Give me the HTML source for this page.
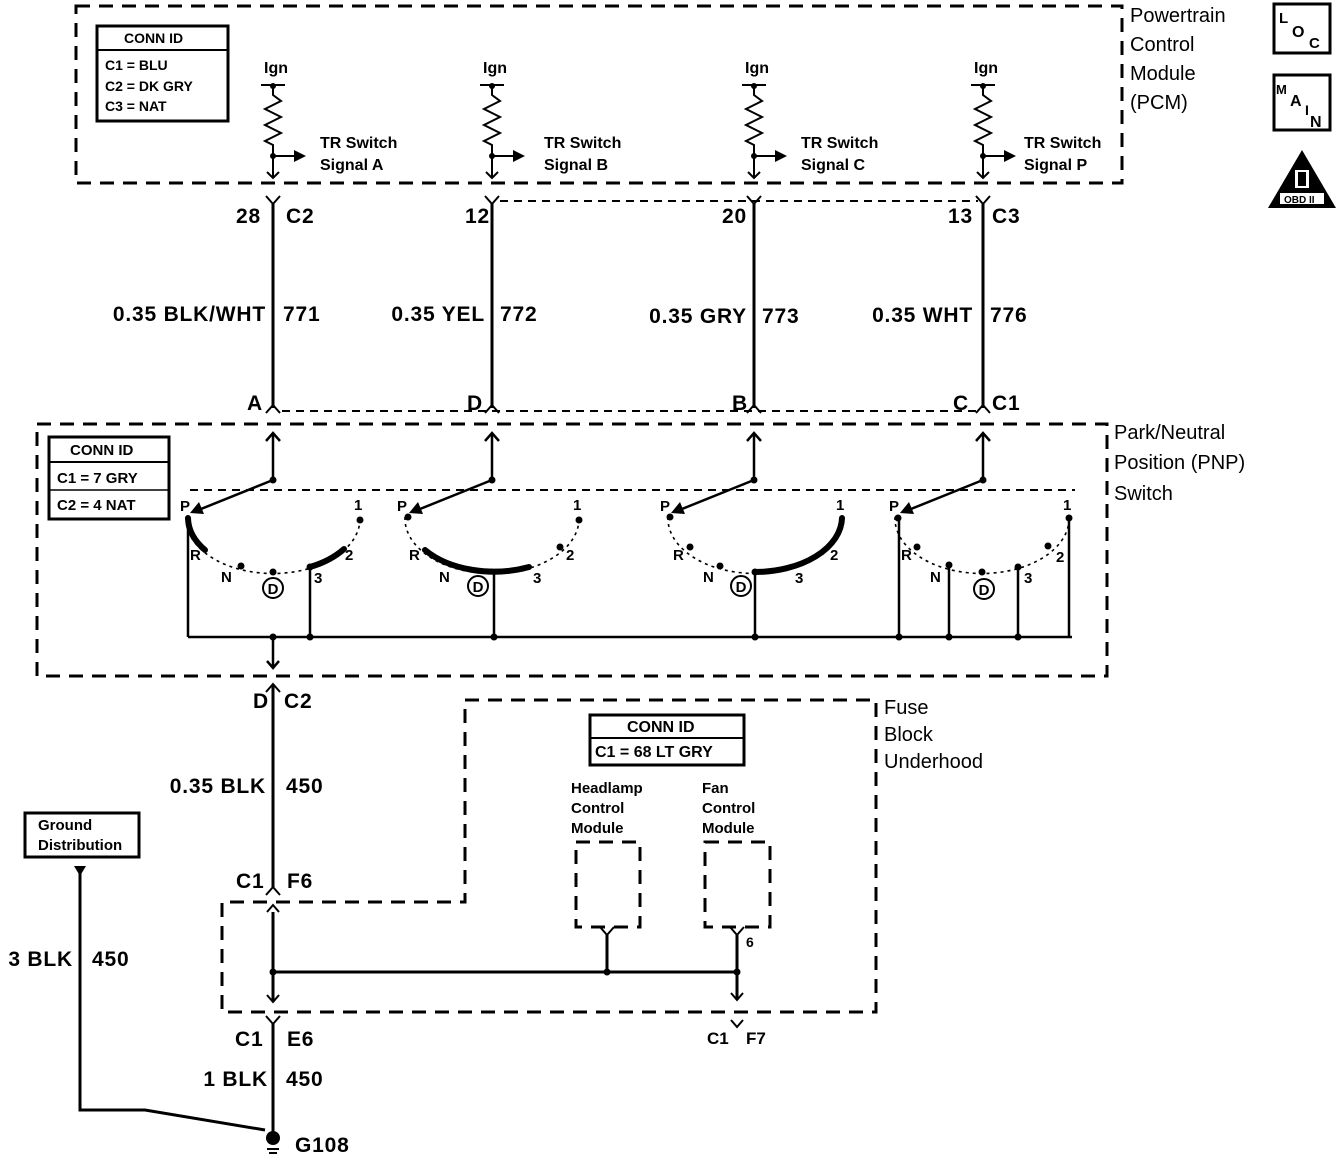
<!DOCTYPE html>
<html><head><meta charset="utf-8"><style>
html,body{margin:0;padding:0;background:#fff}
svg{display:block}
text{font-family:"Liberation Sans",Arial,sans-serif;fill:#000;font-weight:bold}
.big text{letter-spacing:0.8px}
</style></head><body>
<svg width="1344" height="1160" viewBox="0 0 1344 1160" xmlns="http://www.w3.org/2000/svg">
<g stroke="#000" fill="none">
<rect x="76" y="6" width="1046" height="177" stroke-width="3" stroke-dasharray="14,9"/>
<rect x="37" y="424" width="1070" height="252" stroke-width="3" stroke-dasharray="14,9"/>
<path d="M465,700 L876,700 L876,1012 L222,1012 L222,902 L465,902 Z" stroke-width="3" stroke-dasharray="14,9"/>
<path d="M500,201 L978,201" stroke-width="2" stroke-dasharray="8,6"/>
<path d="M282,411 L978,411" stroke-width="2" stroke-dasharray="8,6"/>
<path d="M190,490 L1075,490" stroke-width="2" stroke-dasharray="8,6"/>
</g>

<g stroke="#000" stroke-width="2" fill="none">
<path d="M261,85 H285 M480,85 H504 M742,85 H766 M971,85 H995"/>
<path d="M273,85 V95 L281,101 L265,109 L281,117 L265,125 L281,133 L265,141 L273,145 V178"/>
<path d="M492,85 V95 L500,101 L484,109 L500,117 L484,125 L500,133 L484,141 L492,145 V178"/>
<path d="M754,85 V95 L762,101 L746,109 L762,117 L746,125 L762,133 L746,141 L754,145 V178"/>
<path d="M983,85 V95 L991,101 L975,109 L991,117 L975,125 L991,133 L975,141 L983,145 V178"/>
<path d="M267,172 L273,178 L279,172 M486,172 L492,178 L498,172 M748,172 L754,178 L760,172 M977,172 L983,178 L989,172"/>
<path d="M273,156 H296 M492,156 H515 M754,156 H777 M983,156 H1006"/>
</g>
<g fill="#000">
<circle cx="273" cy="86" r="3"/><circle cx="492" cy="86" r="3"/><circle cx="754" cy="86" r="3"/><circle cx="983" cy="86" r="3"/>
<circle cx="273" cy="156" r="3"/><circle cx="492" cy="156" r="3"/><circle cx="754" cy="156" r="3"/><circle cx="983" cy="156" r="3"/>
<path d="M294,150 L306,156 L294,162Z M513,150 L525,156 L513,162Z M775,150 L787,156 L775,162Z M1004,150 L1016,156 L1004,162Z"/>
</g>
<g font-size="16">
<text x="264" y="73">Ign</text><text x="483" y="73">Ign</text><text x="745" y="73">Ign</text><text x="974" y="73">Ign</text>
<text x="320" y="148">TR Switch</text><text x="320" y="170">Signal A</text>
<text x="544" y="148">TR Switch</text><text x="544" y="170">Signal B</text>
<text x="801" y="148">TR Switch</text><text x="801" y="170">Signal C</text>
<text x="1024" y="148">TR Switch</text><text x="1024" y="170">Signal P</text>
</g>
<rect x="97" y="26" width="131" height="95" fill="none" stroke="#000" stroke-width="3"/>
<line x1="97" y1="50" x2="228" y2="50" stroke="#000" stroke-width="2"/>
<g font-size="14"><text x="124" y="43">CONN ID</text>
<text x="105" y="70">C1 = BLU</text><text x="105" y="91">C2 = DK GRY</text><text x="105" y="111">C3 = NAT</text></g>
<g font-size="20"><text x="1130" y="22" style="font-weight:normal">Powertrain</text><text x="1130" y="51" style="font-weight:normal">Control</text><text x="1130" y="80" style="font-weight:normal">Module</text><text x="1130" y="109" style="font-weight:normal">(PCM)</text></g>

<rect x="1274" y="4" width="56" height="49" fill="none" stroke="#000" stroke-width="3"/>
<text x="1279" y="23" font-size="15">L</text><text x="1292" y="37" font-size="16">O</text><text x="1309" y="48" font-size="15">C</text>
<rect x="1274" y="75" width="56" height="55" fill="none" stroke="#000" stroke-width="3"/>
<text x="1276" y="94" font-size="13">M</text><text x="1290" y="106" font-size="16">A</text><text x="1305" y="115" font-size="14">I</text><text x="1310" y="127" font-size="16">N</text>
<path d="M1302,150 L1336,208 L1268,208 Z" fill="#000"/>
<rect x="1295" y="170" width="14" height="18" fill="#fff"/><rect x="1298" y="172" width="8" height="14" fill="#000"/>
<rect x="1280" y="193" width="44" height="11" fill="#fff"/>
<text x="1284" y="203" font-size="10">OBD II</text>

<g stroke="#000" stroke-width="3" fill="none">
<path d="M273,204 V408 M492,204 V408 M754,204 V408 M983,204 V408"/>
</g>
<g stroke="#000" stroke-width="2" fill="none">
<path d="M266,196 L273,204 L280,196 M485,196 L492,204 L499,196 M747,196 L754,204 L761,196 M976,196 L983,204 L990,196"/>
<path d="M266,413 L273,405 L280,413 M485,413 L492,405 L499,413 M747,413 L754,405 L761,413 M976,413 L983,405 L990,413"/>
</g>
<g font-size="21" class="big">
<text x="236" y="223">28</text><text x="286" y="223">C2</text>
<text x="465" y="223">12</text>
<text x="722" y="223">20</text>
<text x="948" y="223">13</text><text x="992" y="223">C3</text>
<text x="266" y="321" text-anchor="end">0.35 BLK/WHT</text><text x="283" y="321">771</text>
<text x="485" y="321" text-anchor="end">0.35 YEL</text><text x="500" y="321">772</text>
<text x="747" y="323" text-anchor="end">0.35 GRY</text><text x="762" y="323">773</text>
<text x="973" y="322" text-anchor="end">0.35 WHT</text><text x="990" y="322">776</text>
<text x="247" y="410">A</text><text x="467" y="410">D</text><text x="732" y="410">B</text><text x="953" y="410">C</text><text x="992" y="410">C1</text>
</g>

<g stroke="#000" stroke-width="2.5" fill="none">
<path d="M273,480 V434 M492,480 V434 M754,480 V434 M983,480 V434"/>
<path d="M266,441 L273,433 L280,441 M485,441 L492,433 L499,441 M747,441 L754,433 L761,441 M976,441 L983,433 L990,441"/>
<path d="M273,480 L196,511 M492,480 L415,511 M754,480 L677,511 M983,480 L906,511"/>
<path d="M188,637 H1072"/>
<path d="M188,517 V637 M310,567 V637 M494,572 V637 M755,572 V637 M899,517 V637 M949,565 V637 M1018,567 V637 M1069,520 V637"/>
<path d="M273,637 V668 M267,661 L273,668 L279,661"/>
</g>
<g fill="#000">
<path d="M190,513 L204,514 L199,502Z M409,513 L423,514 L418,502Z M671,513 L685,514 L680,502Z M900,513 L914,514 L909,502Z"/>
</g>
<g stroke="#000" stroke-width="1.6" fill="none" stroke-dasharray="3,4">
<path d="M186,517 A87,55 0 0 0 360,520"/>
<path d="M405,517 A87,55 0 0 0 579,520"/>
<path d="M668,517 A87,55 0 0 0 842,520"/>
<path d="M895,517 A87,55 0 0 0 1069,520"/>
</g>
<g stroke="#000" stroke-width="6" fill="none" stroke-linecap="round">
<path d="M188,518 A87,55 0 0 0 205,550"/>
<path d="M310,567 A87,55 0 0 0 344,549"/>
<path d="M425,550 A87,55 0 0 0 529,567"/>
<path d="M755,572 A87,55 0 0 0 842,518"/>
</g>
<g fill="#000">
<circle cx="273" cy="480" r="3.5"/><circle cx="492" cy="480" r="3.5"/><circle cx="754" cy="480" r="3.5"/><circle cx="983" cy="480" r="3.5"/>
<circle cx="241" cy="566" r="3.5"/><circle cx="273" cy="572" r="3.5"/><circle cx="360" cy="520" r="3.5"/><circle cx="310" cy="567" r="3.5"/>
<circle cx="408" cy="517" r="3.5"/><circle cx="560" cy="547" r="3.5"/><circle cx="579" cy="520" r="3.5"/>
<circle cx="670" cy="517" r="3.5"/><circle cx="690" cy="547" r="3.5"/><circle cx="720" cy="566" r="3.5"/><circle cx="755" cy="572" r="3.5"/>
<circle cx="898" cy="518" r="3.5"/><circle cx="917" cy="547" r="3.5"/><circle cx="949" cy="565" r="3.5"/><circle cx="982" cy="572" r="3.5"/><circle cx="1018" cy="567" r="3.5"/><circle cx="1048" cy="546" r="3.5"/><circle cx="1069" cy="518" r="3.5"/>
<circle cx="273" cy="637" r="3.5"/><circle cx="310" cy="637" r="3.5"/><circle cx="494" cy="637" r="3.5"/><circle cx="755" cy="637" r="3.5"/><circle cx="899" cy="637" r="3.5"/><circle cx="949" cy="637" r="3.5"/><circle cx="1018" cy="637" r="3.5"/>
</g>
<g font-size="15">
<text x="180" y="511">P</text><text x="190" y="560">R</text><text x="221" y="582">N</text><text x="314" y="583">3</text><text x="345" y="560">2</text><text x="354" y="510">1</text>
<text x="397" y="511">P</text><text x="409" y="560">R</text><text x="439" y="582">N</text><text x="533" y="583">3</text><text x="566" y="560">2</text><text x="573" y="510">1</text>
<text x="660" y="511">P</text><text x="673" y="560">R</text><text x="703" y="582">N</text><text x="795" y="583">3</text><text x="830" y="560">2</text><text x="836" y="510">1</text>
<text x="889" y="511">P</text><text x="901" y="560">R</text><text x="930" y="582">N</text><text x="1024" y="583">3</text><text x="1056" y="562">2</text><text x="1063" y="510">1</text>
</g>
<g stroke="#000" stroke-width="2" fill="#fff">
<circle cx="273" cy="588" r="10"/><circle cx="478" cy="586" r="10"/><circle cx="741" cy="586" r="10"/><circle cx="984" cy="589" r="10"/>
</g>
<g font-size="15" text-anchor="middle">
<text x="273" y="594">D</text><text x="478" y="592">D</text><text x="741" y="592">D</text><text x="984" y="595">D</text>
</g>
<rect x="49" y="437" width="120" height="82" fill="none" stroke="#000" stroke-width="3"/>
<line x1="49" y1="462" x2="169" y2="462" stroke="#000" stroke-width="2"/>
<line x1="49" y1="490" x2="169" y2="490" stroke="#000" stroke-width="1.5"/>
<g font-size="15"><text x="70" y="455">CONN ID</text><text x="57" y="483">C1 = 7 GRY</text><text x="57" y="510">C2 = 4 NAT</text></g>
<g font-size="20"><text x="1114" y="439" style="font-weight:normal">Park/Neutral</text><text x="1114" y="469" style="font-weight:normal">Position (PNP)</text><text x="1114" y="500" style="font-weight:normal">Switch</text></g>

<g stroke="#000" stroke-width="3" fill="none">
<path d="M273,684 V887 M273,912 V1002 M273,1024 V1135"/>
<path d="M273,972 H737 M607,935 V972 M737,935 V1000"/>
<path d="M80,870 V1110 H145 L265,1130"/>
</g>
<g stroke="#000" stroke-width="2" fill="none">
<path d="M266,692 L273,684 L280,692"/>
<path d="M266,895 L273,887 L280,895"/>
<path d="M267,912 L273,905 L279,912"/>
<path d="M267,995 L273,1002 L279,995"/>
<path d="M266,1016 L273,1024 L280,1016"/>
<path d="M731,993 L737,1000 L743,993"/>
<path d="M600,927 L607,935 L614,927 M730,927 L737,935 L744,927"/>
<path d="M731,1020 L737,1027 L743,1020"/>
<path d="M267,1149 H279 M269,1153 H277"/>
</g>
<g stroke="#000" stroke-width="3" fill="none" stroke-dasharray="14,9">
<rect x="576" y="842" width="64" height="85"/>
<rect x="705" y="842" width="65" height="85"/>
</g>
<g fill="#000">
<circle cx="273" cy="972" r="3.5"/><circle cx="607" cy="972" r="3.5"/><circle cx="737" cy="972" r="3.5"/>
<circle cx="273" cy="1138" r="7"/>
<path d="M74,866 L86,866 L80,876Z"/>
</g>
<rect x="590" y="715" width="154" height="50" fill="none" stroke="#000" stroke-width="3"/>
<line x1="590" y1="738" x2="744" y2="738" stroke="#000" stroke-width="2"/>
<g font-size="16"><text x="627" y="732">CONN ID</text><text x="595" y="757">C1 = 68 LT GRY</text></g>
<g font-size="15"><text x="571" y="793">Headlamp</text><text x="571" y="813">Control</text><text x="571" y="833">Module</text>
<text x="702" y="793">Fan</text><text x="702" y="813">Control</text><text x="702" y="833">Module</text>
<text x="746" y="947" font-size="14">6</text></g>
<g font-size="20"><text x="884" y="714" style="font-weight:normal">Fuse</text><text x="884" y="741" style="font-weight:normal">Block</text><text x="884" y="768" style="font-weight:normal">Underhood</text></g>
<rect x="25" y="813" width="114" height="44" fill="none" stroke="#000" stroke-width="3"/>
<g font-size="15"><text x="38" y="830">Ground</text><text x="38" y="850">Distribution</text></g>
<g font-size="21" class="big">
<text x="253" y="708">D</text><text x="284" y="708">C2</text>
<text x="266" y="793" text-anchor="end">0.35 BLK</text><text x="286" y="793">450</text>
<text x="236" y="888">C1</text><text x="287" y="888">F6</text>
<text x="235" y="1046">C1</text><text x="287" y="1046">E6</text>
<text x="268" y="1086" text-anchor="end">1 BLK</text><text x="286" y="1086">450</text>
<text x="73" y="966" text-anchor="end">3 BLK</text><text x="92" y="966">450</text>
<text x="295" y="1152">G108</text>
</g>
<g font-size="17"><text x="707" y="1044">C1</text><text x="746" y="1044">F7</text></g>
</svg>
</body></html>
